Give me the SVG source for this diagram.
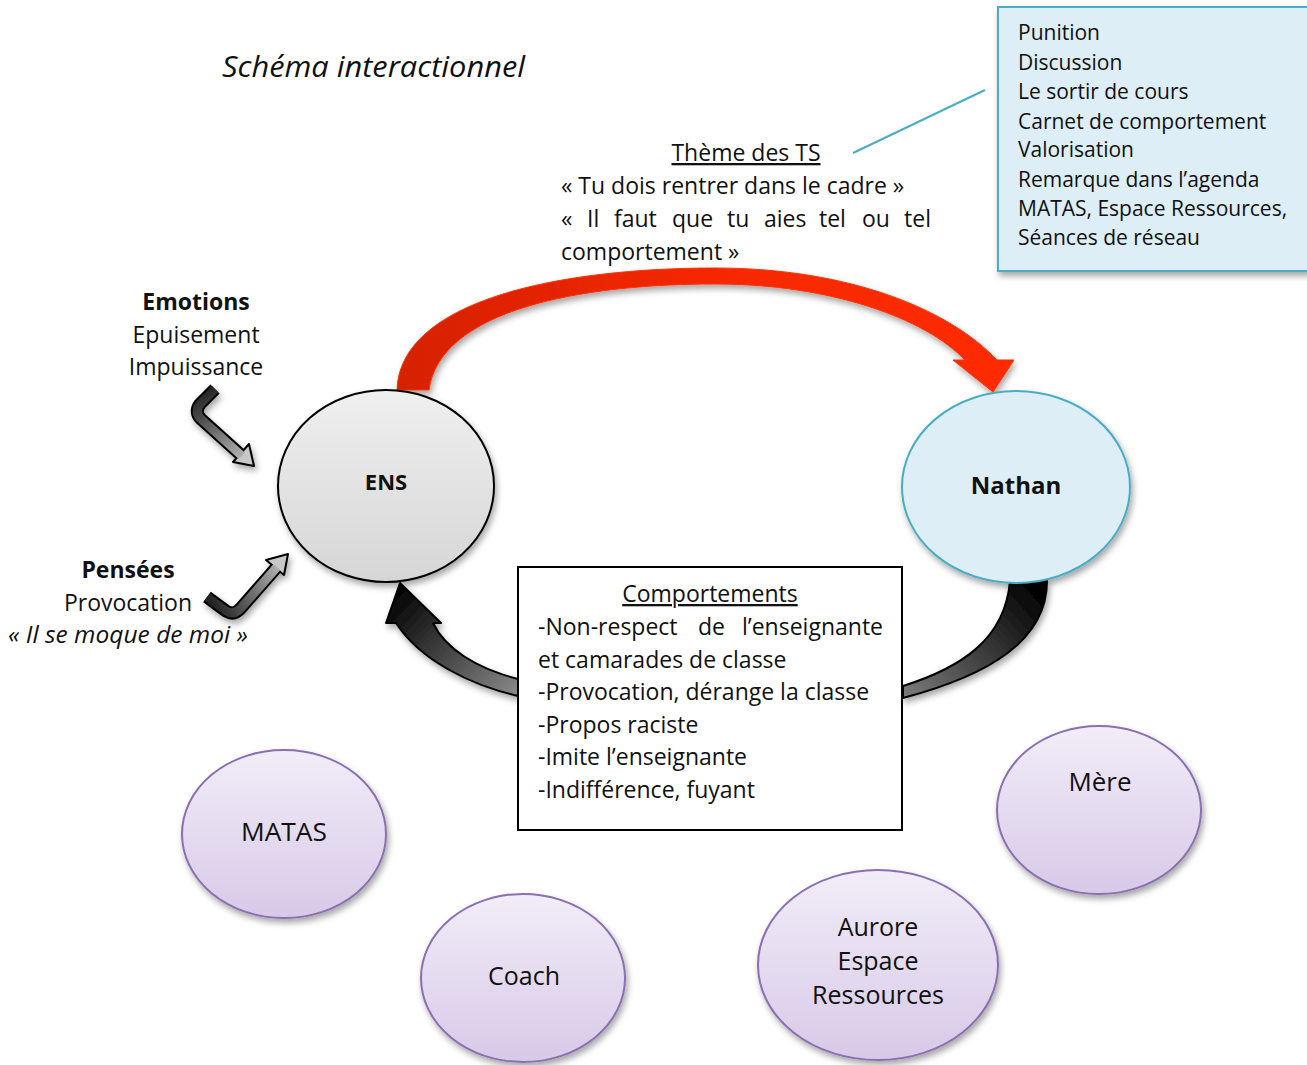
<svg xmlns="http://www.w3.org/2000/svg" width="1307" height="1065" viewBox="0 0 1307 1065">
<style>
text{font-family:"Open Sans","Noto Sans","Liberation Sans",sans-serif;fill:#111;}
.t{font-size:21px;}
.m{font-size:23px;}
.c{text-anchor:middle;}
.e{text-anchor:end;}
.b{font-weight:bold;}
.i{font-style:italic;}
.u{text-decoration:underline;}
.purple{fill:url(#gPurple);stroke:#8a6fb0;stroke-width:2;filter:url(#sh);}
.ptxt{font-size:25px;text-anchor:middle;}
</style>
<defs>
<filter id="sh" x="-20%" y="-20%" width="150%" height="150%">
<feDropShadow dx="2" dy="4" stdDeviation="3" flood-color="#000" flood-opacity="0.35"/>
</filter>
<linearGradient id="gPurple" x1="0" y1="0" x2="0" y2="1">
<stop offset="0" stop-color="#f2edf8"/><stop offset="1" stop-color="#d7c9e8"/>
</linearGradient>
<linearGradient id="gGray" x1="0" y1="0" x2="0" y2="1">
<stop offset="0" stop-color="#efefef"/><stop offset="1" stop-color="#d6d6d6"/>
</linearGradient>
<linearGradient id="gRed" gradientUnits="userSpaceOnUse" x1="400" y1="0" x2="1010" y2="0">
<stop offset="0" stop-color="#d52000"/><stop offset="0.5" stop-color="#f52800"/><stop offset="1" stop-color="#ff2b00"/>
</linearGradient>
<linearGradient id="gArrL" gradientUnits="userSpaceOnUse" x1="400" y1="585" x2="518" y2="695">
<stop offset="0" stop-color="#000"/><stop offset="1" stop-color="#8a8a8a"/>
</linearGradient>
<linearGradient id="gArrR" gradientUnits="userSpaceOnUse" x1="1030" y1="580" x2="905" y2="695">
<stop offset="0" stop-color="#000"/><stop offset="1" stop-color="#7a7a7a"/>
</linearGradient>
<linearGradient id="gSm1" gradientUnits="userSpaceOnUse" x1="205" y1="390" x2="252" y2="465">
<stop offset="0" stop-color="#222"/><stop offset="1" stop-color="#c8c8c8"/>
</linearGradient>
<linearGradient id="gSm2" gradientUnits="userSpaceOnUse" x1="208" y1="598" x2="287" y2="555">
<stop offset="0" stop-color="#222"/><stop offset="1" stop-color="#c8c8c8"/>
</linearGradient>
</defs>

<text x="222" y="77" class="i" style="font-size:29px" textLength="303" lengthAdjust="spacingAndGlyphs">Schéma interactionnel</text>

<g id="actions-box">
<rect x="998" y="7" width="312" height="264" fill="#deeef6" stroke="#4bacc6" stroke-width="2" filter="url(#sh)"/>
<text class="t" x="1018" y="40">Punition</text>
<text class="t" x="1018" y="70">Discussion</text>
<text class="t" x="1018" y="99">Le sortir de cours</text>
<text class="t" x="1018" y="129">Carnet de comportement</text>
<text class="t" x="1018" y="157">Valorisation</text>
<text class="t" x="1018" y="187">Remarque dans l’agenda</text>
<text class="t" x="1018" y="216">MATAS, Espace Ressources,</text>
<text class="t" x="1018" y="245">Séances de réseau</text>
</g>

<g id="theme">
<text class="m c u" x="746" y="161">Thème des TS</text>
<text class="m" x="561" y="194">« Tu dois rentrer dans le cadre »</text>
<text class="m" y="227"><tspan x="561">«</tspan><tspan x="587">Il</tspan><tspan x="614">faut</tspan><tspan x="672">que</tspan><tspan x="727">tu</tspan><tspan x="764">aies</tspan><tspan x="819">tel</tspan><tspan x="862">ou</tspan></text>
<text class="m e" x="931" y="227">tel</text>
<text class="m" x="561" y="260">comportement »</text>
</g>

<g id="emotions">
<text class="m c b" x="196" y="310">Emotions</text>
<text class="m c" x="196" y="343">Epuisement</text>
<text class="m c" x="196" y="375">Impuissance</text>
</g>

<g id="pensees">
<text class="m c b" x="128" y="578">Pensées</text>
<text class="m c" x="128" y="611">Provocation</text>
<text class="m i" x="8" y="643" textLength="240" lengthAdjust="spacingAndGlyphs">« Il se moque de moi »</text>
</g>

<g id="connectors">
<line x1="853" y1="153" x2="985" y2="90" stroke="#4bacc6" stroke-width="2"/>
<path d="M397 390 C400 300 560 268 715 268 C850 268 950 310 997 360 L1014 360 L993 392 L953 360 L965 360 C925 318 830 284 715 284 C580 284 440 310 429 390 Z" fill="url(#gRed)" stroke="#ff3300" stroke-width="1" filter="url(#sh)"/>
<path d="M400 583 L441 623 L433 623 C445 648 475 668 518 679 L518 696 C470 685 420 660 396 623 L386 623 Z" fill="url(#gArrL)" stroke="#000" stroke-width="2" stroke-linejoin="round" filter="url(#sh)"/>
<path d="M1010 581 C1005 640 960 668 903 686 L903 698 C990 675 1047 640 1047 581 Z" fill="url(#gArrR)" stroke="#000" stroke-width="2" filter="url(#sh)"/>
<g filter="url(#sh)">
<path d="M215 389 L200 404 Q194 412 201 419 L241 455" fill="none" stroke="#000" stroke-width="13" stroke-linejoin="round"/>
<polygon points="254,466 233,462 249,444" fill="#c8c8c8" stroke="#000" stroke-width="2" stroke-linejoin="round"/>
<path d="M215 389 L200 404 Q194 412 201 419 L242 456" fill="none" stroke="url(#gSm1)" stroke-width="9" stroke-linejoin="round"/>
<path d="M207 597 L226 611 Q234 616 241 608 L276 568" fill="none" stroke="#000" stroke-width="13" stroke-linejoin="round"/>
<polygon points="288,554 284,575 266,560" fill="#c8c8c8" stroke="#000" stroke-width="2" stroke-linejoin="round"/>
<path d="M207 597 L226 611 Q234 616 241 608 L277 567" fill="none" stroke="url(#gSm2)" stroke-width="9" stroke-linejoin="round"/>
</g>
</g>

<g id="ENS">
<ellipse cx="386" cy="486" rx="108" ry="96" fill="url(#gGray)" stroke="#000" stroke-width="2" filter="url(#sh)"/>
<text class="c b" x="386" y="490" style="font-size:22px">ENS</text>
</g>

<g id="Nathan">
<ellipse cx="1016" cy="487" rx="114" ry="96" fill="#deeef6" stroke="#4bacc6" stroke-width="2" filter="url(#sh)"/>
<text class="c b" x="1016" y="494" style="font-size:24px">Nathan</text>
</g>

<g id="comportements">
<rect x="518" y="567" width="384" height="263" fill="#fff" stroke="#000" stroke-width="2"/>
<text class="m c u" x="710" y="602">Comportements</text>
<text class="m" x="538" y="635">-Non-respect</text>
<text class="m" x="698" y="635">de</text>
<text class="m e" x="883" y="635">l’enseignante</text>
<text class="m" x="538" y="668">et camarades de classe</text>
<text class="m" x="538" y="700">-Provocation, dérange la classe</text>
<text class="m" x="538" y="733">-Propos raciste</text>
<text class="m" x="538" y="765">-Imite l’enseignante</text>
<text class="m" x="538" y="798">-Indifférence, fuyant</text>
</g>

<g id="MATAS">
<ellipse class="purple" cx="284" cy="834" rx="102" ry="84"/>
<text class="ptxt" x="284" y="841" textLength="86" lengthAdjust="spacingAndGlyphs">MATAS</text>
</g>
<g id="Coach">
<ellipse class="purple" cx="523" cy="978" rx="102" ry="84"/>
<text class="ptxt" x="524" y="985">Coach</text>
</g>
<g id="Aurore">
<ellipse class="purple" cx="878" cy="965" rx="120" ry="95"/>
<text class="ptxt" x="878" y="936">Aurore</text>
<text class="ptxt" x="878" y="970">Espace</text>
<text class="ptxt" x="878" y="1004">Ressources</text>
</g>
<g id="Mere">
<ellipse class="purple" cx="1099" cy="810" rx="102" ry="84"/>
<text class="ptxt" x="1100" y="791" textLength="63" lengthAdjust="spacingAndGlyphs">Mère</text>
</g>
</svg>
